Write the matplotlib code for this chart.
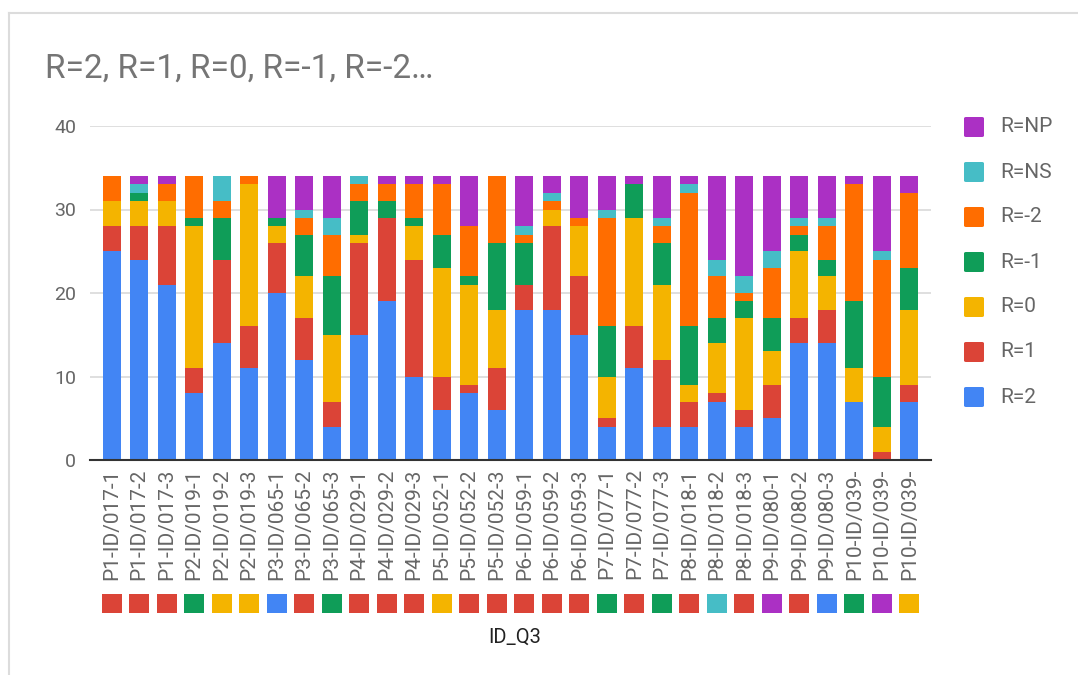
import matplotlib
matplotlib.use("Agg")
import matplotlib.pyplot as plt
from matplotlib.patches import FancyBboxPatch
from matplotlib.lines import Line2D
from matplotlib.transforms import blended_transform_factory
import numpy as np

plt.rcParams['font.family'] = ['Roboto', 'DejaVu Sans']

categories = ["P1-ID/017-1", "P1-ID/017-2", "P1-ID/017-3",
              "P2-ID/019-1", "P2-ID/019-2", "P2-ID/019-3",
              "P3-ID/065-1", "P3-ID/065-2", "P3-ID/065-3",
              "P4-ID/029-1", "P4-ID/029-2", "P4-ID/029-3",
              "P5-ID/052-1", "P5-ID/052-2", "P5-ID/052-3",
              "P6-ID/059-1", "P6-ID/059-2", "P6-ID/059-3",
              "P7-ID/077-1", "P7-ID/077-2", "P7-ID/077-3",
              "P8-ID/018-1", "P8-ID/018-2", "P8-ID/018-3",
              "P9-ID/080-1", "P9-ID/080-2", "P9-ID/080-3",
              "P10-ID/039-", "P10-ID/039-", "P10-ID/039-"]

r_2  = [25, 24, 21, 8, 14, 11, 20, 12, 4, 15, 19, 10, 6, 8, 6, 18, 18, 15, 4, 11, 4, 4, 7, 4, 5, 14, 14, 7, 0, 7]
r_1  = [3, 4, 7, 3, 10, 5, 6, 5, 3, 11, 10, 14, 4, 1, 5, 3, 10, 7, 1, 5, 8, 3, 1, 2, 4, 3, 4, 0, 1, 2]
r_0  = [3, 3, 3, 17, 0, 17, 2, 5, 8, 1, 0, 4, 13, 12, 7, 0, 2, 6, 5, 13, 9, 2, 6, 11, 4, 8, 4, 4, 3, 9]
r_m1 = [0, 1, 0, 1, 5, 0, 1, 5, 7, 4, 2, 1, 4, 1, 8, 5, 0, 0, 6, 4, 5, 7, 3, 2, 4, 2, 2, 8, 6, 5]
r_m2 = [3, 0, 2, 5, 2, 1, 0, 2, 5, 2, 2, 4, 6, 6, 8, 1, 1, 1, 13, 0, 2, 16, 5, 1, 6, 1, 4, 14, 14, 9]
r_ns = [0, 1, 0, 0, 3, 0, 0, 1, 2, 1, 0, 0, 0, 0, 0, 1, 1, 0, 1, 0, 1, 1, 2, 2, 2, 1, 1, 0, 1, 0]
r_np = [0, 1, 1, 0, 0, 0, 5, 4, 5, 0, 1, 1, 1, 6, 0, 6, 2, 5, 4, 1, 5, 1, 10, 12, 9, 5, 5, 1, 9, 2]

series_names = ["R=2", "R=1", "R=0", "R=-1", "R=-2", "R=NS", "R=NP"]
series_values = [r_2, r_1, r_0, r_m1, r_m2, r_ns, r_np]

# colour of the small square under each category (ID_Q3 value)
id_q3 = ["R=1", "R=1", "R=1", "R=-1", "R=0", "R=0", "R=2", "R=1", "R=-1", "R=1",
         "R=1", "R=1", "R=0", "R=1", "R=1", "R=1", "R=1", "R=1", "R=-1", "R=1",
         "R=-1", "R=1", "R=NS", "R=1", "R=NP", "R=1", "R=2", "R=-1", "R=NP", "R=0"]

title = "R=2, R=1, R=0, R=-1, R=-2\u2026"
x_title = "ID_Q3"

colors = {"R=2": "#4285F4", "R=1": "#DB4437", "R=0": "#F4B400", "R=-1": "#0F9D58",
          "R=-2": "#FF6D00", "R=NS": "#46BDC6", "R=NP": "#AB30C4"}

W, H = 1078, 675
fig = plt.figure(figsize=(W / 100, H / 100), dpi=100)
fig.patch.set_facecolor("white")

# border of the card
fig.add_artist(Line2D([9 / W, 9 / W], [0, 1 - 13 / H], transform=fig.transFigure,
                      color="#dcdcdc", lw=1.5))
fig.add_artist(Line2D([9 / W, 1], [1 - 13 / H, 1 - 13 / H], transform=fig.transFigure,
                      color="#dcdcdc", lw=1.5))

left, right, top, bottom = 90, 931, 126, 460
ax = fig.add_axes([left / W, 1 - bottom / H, (right - left) / W, (bottom - top) / H])

x = np.arange(len(categories))
base = np.zeros(len(categories))
for name, vals in zip(series_names, series_values):
    v = np.array(vals, dtype=float)
    ax.bar(x, v, bottom=base, width=0.65, color=colors[name], edgecolor="none",
           label=name, zorder=3)
    base += v

ax.set_xlim(-0.79, len(categories) - 1 + 0.79)
ax.set_ylim(0, 40)
ax.set_yticks([0, 10, 20, 30, 40])
ax.grid(axis="y", color="#d9d9d9", lw=1.2, zorder=0)
for s in ["top", "right", "left"]:
    ax.spines[s].set_visible(False)
ax.spines["bottom"].set_color("#333333")
ax.spines["bottom"].set_linewidth(1.5)
ax.spines["bottom"].set_zorder(4)
ax.tick_params(axis="y", length=0, labelsize=14, labelcolor="#666666", pad=10)
ax.set_xticks(x)
ax.set_xticklabels(categories, rotation=90, fontsize=15, color="#666666")
ax.tick_params(axis="x", length=0, pad=6)

# small coloured squares below the labels
trans = blended_transform_factory(ax.transData, ax.transAxes)
sq_y = (bottom - 603.5) / (bottom - top)
ax.scatter(x, np.full(len(x), sq_y), marker="s", s=205,
           c=[colors[k] for k in id_q3], transform=trans, clip_on=False, zorder=5,
           linewidths=0)

fig.text(515 / W, 1 - 637 / H, x_title, ha="center", va="center", fontsize=14.5,
         color="#222222")

fig.text(45 / W, 1 - 69 / H, title, ha="left", va="center", fontsize=24,
         color="#757575")

# legend (top entry = last series)
for i, name in enumerate(reversed(series_names)):
    yc = 127 + i * 45
    fig.add_artist(FancyBboxPatch((964 / W, 1 - (yc + 10) / H), 20 / W, 20 / H,
                                  boxstyle="round,pad=0,rounding_size=0.002",
                                  transform=fig.transFigure, facecolor=colors[name],
                                  edgecolor="none"))
    fig.text(1000 / W, 1 - yc / H, name, ha="left", va="center", fontsize=15,
             color="#666666")

fig.savefig("out.png", dpi=100)
